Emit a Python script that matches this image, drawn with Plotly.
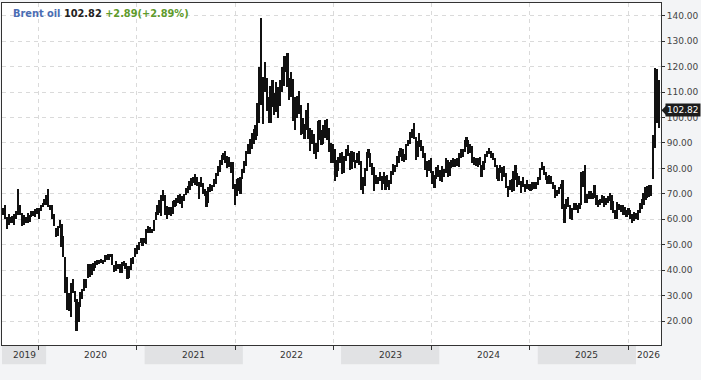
import plotly.graph_objects as go
import pandas as pd

# ---- data: weekly high / low of Brent oil (USD) ----
start_2019 = "2019-07-26"
hi_2019 = [64.3, 65.5, 61.0, 61.9, 61.0, 61.3, 62.0, 63.2, 71.9, 65.5, 62.3, 61.5, 61.1, 62.3, 61.8, 63.3, 63.3, 64.0, 64.6, 64.5, 65.6, 66.6, 68.0]
lo_2019 = [61.8, 60.0, 56.2, 57.7, 58.5, 58.5, 57.7, 60.1, 61.5, 61.6, 57.4, 57.9, 58.5, 58.6, 58.8, 60.8, 61.2, 61.0, 62.0, 60.0, 63.4, 64.7, 65.8]

start_2020 = "2020-01-03"
hi_2020 = [69.5, 71.8, 65.5, 65.5, 61.9, 56.7, 57.4, 59.8, 58.0, 53.3, 45.0, 37.5, 31.0, 34.9, 36.4, 32.0, 28.5, 27.6, 31.3, 32.5, 36.5, 36.5, 42.5, 42.3, 42.5, 43.0, 43.5, 43.9, 44.0, 44.4, 44.1, 45.9, 45.8, 46.2, 46.3, 46.2, 42.0, 43.6, 42.5, 42.5, 43.4, 43.5, 43.0, 41.8, 41.5, 44.8, 45.3, 48.7, 49.9, 51.0, 52.5, 52.5]
lo_2020 = [65.7, 64.9, 63.5, 60.3, 57.2, 53.1, 53.3, 56.5, 49.2, 45.0, 31.0, 24.5, 24.0, 21.7, 31.0, 27.5, 16.0, 19.8, 25.5, 28.5, 32.0, 33.0, 37.0, 37.5, 38.0, 39.5, 41.0, 42.0, 42.5, 42.8, 42.3, 43.2, 44.2, 44.0, 45.0, 42.0, 39.2, 39.5, 40.5, 38.8, 39.0, 41.5, 40.5, 36.5, 37.0, 40.0, 42.5, 45.0, 46.5, 48.0, 50.5, 49.5]

start_2021 = "2021-01-01"
hi_2021 = [52.5, 56.3, 57.4, 56.8, 56.3, 59.8, 62.8, 65.5, 67.7, 69.6, 71.4, 69.4, 65.4, 65.0, 64.8, 67.2, 67.5, 68.3, 69.7, 69.8, 69.0, 70.0, 72.2, 73.0, 74.9, 76.3, 76.5, 77.8, 76.5, 74.5, 76.5, 74.3, 72.0, 71.2, 72.7, 73.8, 73.5, 76.0, 78.1, 80.8, 83.5, 85.1, 86.1, 86.7, 84.7, 84.6, 82.5, 82.6, 74.0, 76.0, 76.3, 76.5, 79.7]
lo_2021 = [50.5, 50.4, 54.5, 54.5, 54.6, 55.3, 59.6, 61.5, 62.5, 61.3, 67.0, 61.8, 60.3, 61.5, 61.3, 62.2, 64.8, 65.3, 66.5, 66.2, 64.6, 67.0, 69.5, 70.5, 71.5, 73.0, 74.2, 73.5, 73.0, 68.0, 72.5, 69.8, 69.0, 65.0, 66.5, 70.8, 71.0, 72.5, 74.0, 77.0, 78.5, 81.5, 83.5, 82.0, 80.0, 80.6, 78.3, 72.0, 65.7, 69.0, 71.3, 70.0, 76.0]

start_2022 = "2022-01-07"
hi_2022 = [82.9, 86.7, 89.5, 91.7, 94.0, 95.6, 97.0, 105.8, 119.8, 139.1, 116.0, 122.0, 115.5, 108.0, 112.5, 114.8, 109.8, 114.0, 112.0, 114.8, 120.0, 124.0, 124.0, 125.2, 115.5, 118.0, 115.0, 108.0, 108.5, 110.5, 105.0, 100.0, 97.5, 103.0, 105.6, 96.0, 95.0, 93.5, 90.0, 98.7, 99.0, 95.0, 97.0, 99.0, 99.5, 95.7, 90.0, 89.5, 87.5, 83.5, 84.5, 86.0]
lo_2022 = [78.0, 80.9, 85.5, 85.5, 87.8, 89.5, 91.0, 92.6, 98.0, 105.0, 97.4, 110.0, 102.5, 98.0, 97.9, 104.0, 101.0, 102.0, 100.0, 104.5, 110.0, 112.5, 118.0, 112.0, 106.9, 108.0, 98.5, 95.0, 100.0, 101.5, 93.0, 93.5, 91.5, 95.0, 91.5, 87.0, 89.5, 85.8, 83.6, 86.5, 91.0, 89.2, 89.5, 92.0, 91.0, 86.5, 82.3, 82.0, 75.1, 76.5, 79.0, 82.0]

start_2023 = "2023-01-06"
hi_2023 = [86.5, 85.0, 87.6, 89.1, 86.0, 86.9, 86.5, 83.5, 86.0, 86.8, 83.0, 76.5, 80.0, 86.4, 87.5, 86.0, 82.0, 80.5, 77.5, 76.5, 78.4, 77.0, 78.7, 77.0, 77.5, 75.5, 79.0, 81.8, 81.5, 85.0, 87.0, 88.1, 87.5, 85.5, 89.5, 91.2, 94.3, 95.3, 97.7, 92.5, 90.8, 93.8, 91.0, 89.0, 86.0, 83.0, 83.5, 84.0, 79.0, 77.5, 80.7, 81.5]
lo_2023 = [77.8, 78.0, 83.0, 85.0, 79.5, 79.6, 82.5, 80.0, 82.0, 81.5, 71.4, 70.1, 73.0, 79.0, 84.0, 80.5, 77.5, 71.3, 73.7, 74.0, 75.0, 71.4, 74.0, 71.5, 72.5, 71.6, 74.0, 77.5, 78.5, 80.5, 82.0, 84.5, 83.0, 82.5, 83.5, 89.0, 89.5, 92.0, 91.5, 83.4, 84.5, 88.5, 87.0, 84.0, 79.5, 76.5, 79.0, 78.0, 73.8, 72.3, 76.0, 76.5]

start_2024 = "2024-01-05"
hi_2024 = [79.4, 80.8, 79.6, 84.0, 83.3, 82.5, 83.5, 84.0, 83.8, 84.0, 86.0, 87.7, 87.5, 91.2, 92.2, 91.0, 89.5, 89.0, 84.5, 84.0, 84.2, 84.5, 81.5, 83.0, 85.8, 87.0, 88.0, 87.0, 86.2, 84.0, 81.5, 80.0, 81.5, 80.5, 81.0, 78.0, 73.0, 75.5, 76.0, 79.0, 81.2, 78.0, 77.0, 75.0, 76.5, 74.0, 75.5, 74.0, 74.0, 74.5, 74.5, 74.5]
lo_2024 = [75.0, 74.8, 76.5, 78.0, 76.8, 77.0, 80.2, 80.5, 80.5, 81.0, 80.7, 84.0, 84.5, 86.5, 88.5, 85.6, 86.0, 82.3, 81.5, 81.0, 80.5, 81.5, 76.8, 79.5, 82.0, 84.5, 85.5, 84.0, 83.2, 80.5, 76.0, 75.0, 78.0, 75.0, 76.8, 72.2, 68.7, 71.5, 70.9, 71.0, 75.5, 72.5, 73.5, 70.5, 72.5, 70.8, 72.0, 71.5, 71.0, 71.5, 71.8, 72.0]

start_2025 = "2025-01-03"
hi_2025 = [76.6, 80.0, 82.6, 81.0, 78.5, 77.0, 77.5, 77.0, 74.5, 73.5, 71.5, 72.5, 74.0, 75.3, 66.0, 68.0, 68.7, 65.5, 64.5, 66.5, 66.5, 65.5, 66.5, 78.5, 79.0, 81.4, 70.0, 71.0, 71.0, 70.5, 73.5, 69.5, 67.5, 68.0, 69.5, 69.0, 68.5, 69.0, 70.3, 69.5, 67.0, 63.5, 66.8, 66.0, 65.5, 65.5, 65.0, 63.5, 64.5, 63.5, 62.0, 62.8]
lo_2025 = [73.5, 75.5, 79.5, 77.5, 75.5, 74.0, 74.0, 74.0, 72.0, 68.3, 69.0, 70.0, 72.0, 64.0, 58.4, 64.0, 65.0, 60.2, 59.8, 63.5, 63.5, 62.5, 63.9, 65.5, 72.5, 66.3, 66.5, 68.0, 68.0, 68.0, 68.5, 65.5, 65.0, 65.5, 66.5, 65.0, 65.5, 66.5, 67.0, 63.8, 62.5, 60.2, 60.0, 63.5, 62.8, 61.5, 61.8, 61.0, 61.5, 60.0, 58.7, 59.5]

start_2026 = "2026-01-02"
hi_2026 = [62.5, 63.8, 66.5, 68.0, 70.5, 72.5, 73.0, 73.5, 73.5, 93.0, 119.5, 119.0, 114.8]
lo_2026 = [60.0, 59.8, 62.5, 64.0, 65.5, 67.5, 68.5, 68.7, 69.0, 76.0, 88.0, 98.0, 96.0]

instrument = "Brent oil"
last_price = 102.82
change = 2.89
change_pct = 2.89

x_start, x_end = "2019-07-21", "2026-04-04"
years = [2019, 2020, 2021, 2022, 2023, 2024, 2025, 2026]
grid_dates = ["2019-12-03", "2020-12-03", "2021-12-03", "2022-12-03",
              "2023-12-03", "2024-12-03", "2025-12-03"]
y_ticks = [20, 30, 40, 50, 60, 70, 80, 90, 100, 110, 120, 130, 140]

# ---- assemble ----
segments = [(start_2019, hi_2019, lo_2019), (start_2020, hi_2020, lo_2020),
            (start_2021, hi_2021, lo_2021), (start_2022, hi_2022, lo_2022),
            (start_2023, hi_2023, lo_2023), (start_2024, hi_2024, lo_2024),
            (start_2025, hi_2025, lo_2025), (start_2026, hi_2026, lo_2026)]
dates, highs, lows = [], [], []
for s, h, l in segments:
    n = min(len(h), len(l))
    dates += list(pd.date_range(s, periods=n, freq="7D"))
    highs += h[:n]
    lows += l[:n]

fig = go.Figure()
fig.add_trace(go.Bar(
    x=dates, base=lows, y=[h - l for h, l in zip(highs, lows)],
    width=6.2 * 86400000, marker=dict(color="#111111", line=dict(width=0)),
    hoverinfo="skip"))

shapes = []
ann = []
xs = pd.Timestamp(x_start)
xe = pd.Timestamp(x_end)
for yr in years:
    a = max(pd.Timestamp(f"{yr}-01-01"), xs)
    b = min(pd.Timestamp(f"{yr + 1}-01-01"), xe)
    if yr % 2 == 1:
        shapes.append(dict(type="rect", xref="x", yref="paper", x0=a, x1=b,
                           y0=-0.056, y1=-0.003, fillcolor="#e1e2e4",
                           line=dict(width=0), layer="below"))
    ann.append(dict(x=a + (b - a) / 2, y=-0.029, xref="x", yref="paper",
                    text=str(yr), showarrow=False, yanchor="middle",
                    font=dict(family="DejaVu Sans", size=9, color="#333")))

# title
ann.append(dict(
    x=0.013, y=0.968, xref="paper", yref="paper", xanchor="left", yanchor="middle",
    showarrow=False,
    text=(f"<b><span style='color:#4a6db3'>{instrument}</span> "
          f"<span style='color:#222'>{last_price:.2f}</span> "
          f"<span style='color:#5e9b2c'>+{change:.2f}(+{change_pct:.2f}%)</span></b>"),
    font=dict(family="DejaVu Sans", size=9.8)))

# last price tag
ann.append(dict(x=1, y=last_price, xref="paper", yref="y", xanchor="left",
                yanchor="middle", xshift=4, showarrow=False,
                text=f"{last_price:.2f}", bgcolor="#1c1c1c", borderpad=1,
                font=dict(family="DejaVu Sans", size=9, color="white")))
pw = 659.0
shapes.append(dict(type="path", xref="paper", yref="y", layer="above",
                   path=(f"M {1 + 0.5 / pw},{last_price} L {1 + 5 / pw},{last_price + 1.8} "
                         f"L {1 + 5 / pw},{last_price - 1.8} Z"),
                   fillcolor="#1c1c1c", line=dict(width=0)))

fig.update_layout(
    width=701, height=380,
    margin=dict(l=2, r=40, t=3, b=35),
    paper_bgcolor="#f3f4f6", plot_bgcolor="white",
    showlegend=False, bargap=0,
    font=dict(family="DejaVu Sans", size=9, color="#444"),
    shapes=shapes, annotations=ann,
    xaxis=dict(type="date", range=[x_start, x_end], tickvals=grid_dates,
               showticklabels=False, ticks="outside", ticklen=4, tickcolor="#333",
               showgrid=True, gridcolor="#dadada", griddash="4px,4px",
               showline=True, mirror=True, linecolor="#333", linewidth=1,
               zeroline=False, fixedrange=True),
    yaxis=dict(side="right", range=[10.6, 145], tickvals=y_ticks, tickformat=".2f",
               ticks="outside", ticklen=3, tickcolor="#333",
               showgrid=True, gridcolor="#dadada", griddash="4px,4px",
               showline=True, mirror=True, linecolor="#333", linewidth=1,
               zeroline=False, fixedrange=True),
)

fig.write_html("out.html",
               config={"displayModeBar": False},
               post_script="document.body.style.margin='0';"
                           "document.body.style.background='#f3f4f6';")
